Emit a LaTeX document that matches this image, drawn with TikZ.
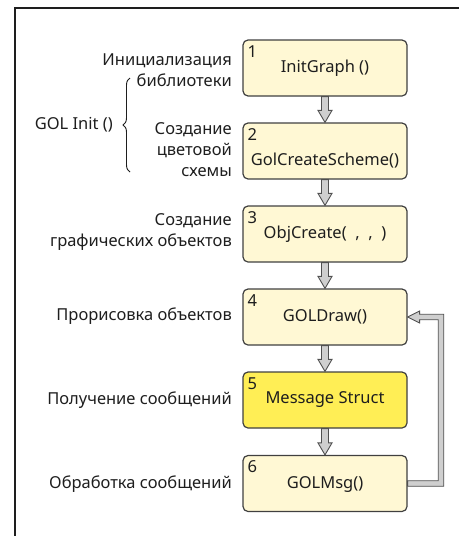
\documentclass[tikz,border=0pt]{standalone}
\usepackage{fontspec}
\setmainfont{Noto Sans}
\usetikzlibrary{calc,decorations.pathreplacing}
\definecolor{boxfill}{HTML}{FFF8D4}
\definecolor{boxhi}{HTML}{FFEE55}
\definecolor{boxline}{HTML}{404040}
\definecolor{arrfill}{HTML}{CFCFCF}
\definecolor{arrline}{HTML}{505050}
\definecolor{txt}{HTML}{1E1E1E}
\tikzset{
  stepbox/.style={draw=boxline, line width=1.2pt, fill=boxfill, rounded corners=5pt,
    minimum width=164pt, minimum height=56pt, inner sep=0pt},
  hibox/.style={stepbox, fill=boxhi},
  numlbl/.style={anchor=center, inner sep=0pt, text=txt},
  boxtxt/.style={anchor=center, inner sep=0pt, text=txt},
  sidelbl/.style={anchor=east, inner sep=0pt, align=right, text=txt},
  conn/.style={draw=arrline, line width=0.9pt, fill=arrfill, line join=miter},
}
\newcommand\vconn[2]{\draw[conn] ($(#1.south)+(-3.5,0)$) -- ($(#2.north)+(-3.5,-12)$) -- ++(-3.5,0) -- (#2.north) -- ++(7,-12) -- ++(-3.5,0) -- ($(#1.south)+(3.5,0)$) -- cycle;}
\begin{document}
\begin{tikzpicture}[x=1pt,y=-1pt,font=\fontsize{16.5}{21}\selectfont]
\useasboundingbox (0,0) rectangle (459,536);
\draw[line width=1.6pt, draw=txt] (15,536) -- (15,8) -- (459,8);
% boxes
\node[stepbox] (b1) at (325,68) {};
\node[stepbox] (b2) at (325,151) {};
\node[stepbox] (b3) at (325,234) {};
\node[stepbox] (b4) at (325,317) {};
\node[hibox]   (b5) at (325,400) {};
\node[stepbox] (b6) at (325,483.5) {};
% numbers
\foreach \i in {1,...,6} {\node[numlbl] (n\i) at ($(b\i.north west)+(10,12)$) {\i};}
% box texts
\node[boxtxt] (t1) at (325,68) {InitGraph ()};
\node[boxtxt] (t2) at (325,161) {GolCreateScheme()};
\node[boxtxt] (t3) at (325,234) {ObjCreate(\ \ ,\ \ ,\ \ )};
\node[boxtxt] (t4) at (325,317) {GOLDraw()};
\node[boxtxt] (t5) at (325,400) {Message Struct};
\node[boxtxt] (t6) at (325,484) {GOLMsg()};
% side labels
\node[sidelbl] (l1) at (232,70) {Инициализация\\библиотеки};
\node[sidelbl] (l2) at (232,150) {Создание\\цветовой\\схемы};
\node[sidelbl] (l3) at (232,232) {Создание\\графических объектов};
\node[sidelbl] (l4) at (232,316) {Прорисовка объектов};
\node[sidelbl] (l5) at (232,400) {Получение сообщений};
\node[sidelbl] (l6) at (232,484) {Обработка сообщений};
% brace
\coordinate (bt) at (130,78);
\coordinate (bb) at (130,172);
\draw[draw=txt, line width=0.9pt, decorate, decoration={brace, amplitude=7pt}] (bb) -- (bt);
\node[anchor=east, inner sep=0pt, text=txt] (gol) at (113,125) {GOL Init ()};
% connectors
\vconn{b1}{b2}
\vconn{b2}{b3}
\vconn{b3}{b4}
\vconn{b4}{b5}
\vconn{b5}{b6}
\coordinate (fb) at (441,0);
\draw[conn] let \p1=(b6.east), \p2=(b4.east), \p3=(fb) in
  (\x1,\y1+2.75pt) -- (\x3-2.75pt,\y1+2.75pt) -- (\x3-2.75pt,\y2-2.75pt) -- (\x2+12pt,\y2-2.75pt)
  -- (\x2+12pt,\y2-6pt) -- (\x2,\y2) -- (\x2+12pt,\y2+6pt) -- (\x2+12pt,\y2+2.75pt)
  -- (\x3+2.75pt,\y2+2.75pt) -- (\x3+2.75pt,\y1-2.75pt) -- (\x1,\y1-2.75pt) -- cycle;
\end{tikzpicture}
\end{document}
